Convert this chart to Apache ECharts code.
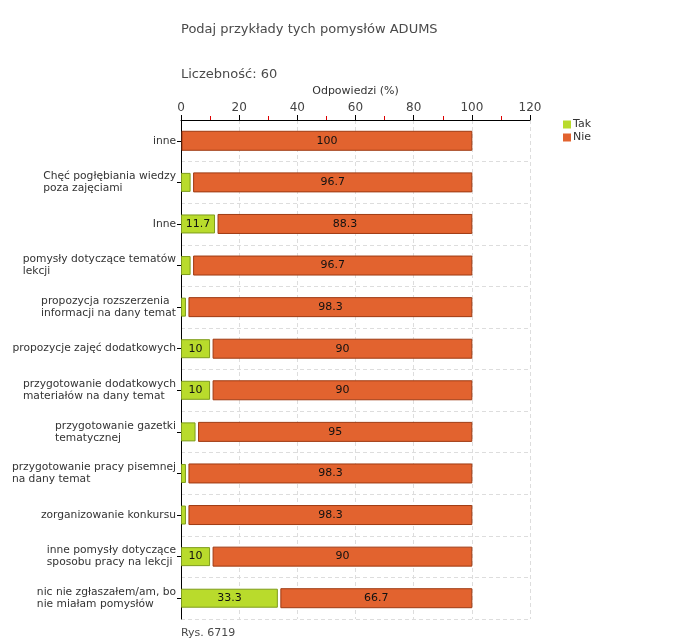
<!DOCTYPE html>
<html>
<head>
<meta charset="utf-8">
<script src="https://cdn.jsdelivr.net/npm/echarts@6/dist/echarts.min.js"></script>
<style>html,body{margin:0;padding:0;background:#fff}#c{width:680px;height:640px}</style>
</head>
<body>
<div id="c"></div>
<script>
var categories = [
  'inne',
  'Chęć pogłębiania wiedzy\npoza zajęciami',
  'Inne',
  'pomysły dotyczące tematów\nlekcji',
  'propozycja rozszerzenia\ninformacji na dany temat',
  'propozycje zajęć dodatkowych',
  'przygotowanie dodatkowych\nmateriałów na dany temat',
  'przygotowanie gazetki\ntematycznej',
  'przygotowanie pracy pisemnej\nna dany temat',
  'zorganizowanie konkursu',
  'inne pomysły dotyczące\nsposobu pracy na lekcji',
  'nic nie zgłaszałem/am, bo\nnie miałam pomysłów'
];
var tak = [0, 3.3, 11.7, 3.3, 1.7, 10, 10, 5, 1.7, 1.7, 10, 33.3];
var nie = [100, 96.7, 88.3, 96.7, 98.3, 90, 90, 95, 98.3, 98.3, 90, 66.7];
var xTicks = [0, 20, 40, 60, 80, 100, 120];

var FONT = 'DejaVu Sans, Verdana, sans-serif';
var GREEN = '#B9DB2C', GREEN_B = '#7E9C1C';
var ORANGE = '#E2632F', ORANGE_B = '#9E3A12';

var chart = echarts.init(document.getElementById('c'), null, {renderer: 'canvas'});
var nieData = categories.map(function (c, i) { return [i, tak[i], nie[i]]; });
var takData = tak.map(function (v) { return v > 0 ? v : '-'; });

chart.setOption({
  animation: false,
  backgroundColor: '#fff',
  textStyle: {fontFamily: FONT},
  title: [
    {text: 'Podaj przykłady tych pomysłów ADUMS', left: 176, top: 18,
     textStyle: {fontFamily: FONT, fontSize: 13, fontWeight: 'normal', color: '#4a4a4a'}},
    {text: 'Liczebność: 60', left: 176, top: 63,
     textStyle: {fontFamily: FONT, fontSize: 13, fontWeight: 'normal', color: '#4a4a4a'}},
    {text: 'Rys. 6719', left: 176, top: 623,
     textStyle: {fontFamily: FONT, fontSize: 11, fontWeight: 'normal', color: '#4a4a4a'}}
  ],
  legend: {
    left: 558, top: 114, orient: 'vertical', itemWidth: 8, itemHeight: 8, itemGap: 2,
    icon: 'rect',
    textStyle: {fontFamily: FONT, fontSize: 11, color: '#333', padding: [0, 0, 0, -3]},
    data: [{name: 'Tak', itemStyle: {color: GREEN, borderWidth: 0}}, {name: 'Nie', itemStyle: {color: ORANGE, borderWidth: 0}}]
  },
  grid: {left: 181, top: 120, width: 349, height: 499, containLabel: false},
  xAxis: {
    type: 'value', position: 'top', min: 0, max: 120, interval: 20,
    name: 'Odpowiedzi (%)', nameLocation: 'middle', nameGap: 21,
    nameTextStyle: {fontFamily: FONT, fontSize: 11, color: '#333'},
    axisLine: {show: true, lineStyle: {color: '#000', width: 1}},
    axisTick: {show: true, inside: false, length: 5, lineStyle: {color: '#000'}},
    minorTick: {show: true, splitNumber: 2, length: 4, lineStyle: {color: '#d00'}},
    axisLabel: {fontFamily: FONT, fontSize: 12, color: '#444', margin: 6,
      formatter: function (v) { return xTicks.indexOf(v) >= 0 ? String(v) : ''; }},
    splitLine: {show: true, lineStyle: {color: '#ddd', type: [4, 3]}}
  },
  yAxis: {
    type: 'category', data: categories, inverse: true,
    axisLine: {show: true, lineStyle: {color: '#000', width: 1}},
    axisTick: {show: true, alignWithLabel: true, length: 4, lineStyle: {color: '#000'}},
    axisLabel: {
      fontFamily: FONT, fontSize: 10.7, color: '#333', margin: 5, lineHeight: 12,
      formatter: function (v) {
        return v.split('\n').map(function (s) { return '{l|' + s + '}'; }).join('\n');
      },
      rich: {l: {align: 'left', fontFamily: FONT, fontSize: 10.7, color: '#333', lineHeight: 12}}
    },
    splitLine: {show: true, lineStyle: {color: '#ddd', type: [4, 3]}}
  },
  series: [
    {
      name: 'Tak', type: 'bar', data: takData, barWidth: 19,
      itemStyle: {color: GREEN, borderColor: GREEN_B, borderWidth: 1},
      label: {show: true, position: 'inside', color: '#111', fontFamily: FONT, fontSize: 11,
        formatter: function (p) { return p.value >= 10 ? String(p.value) : ''; }},
      z: 3
    },
    {
      name: 'Nie', type: 'custom', data: nieData,
      itemStyle: {color: ORANGE},
      encode: {x: [1, 2], y: 0},
      renderItem: function (params, api) {
        var idx = api.value(0), t = api.value(1), n = api.value(2);
        var s = api.coord([t, idx]);
        var e = api.coord([t + n, idx]);
        var x0 = s[0] + (t > 0 ? 3 : 1);
        var h = 19;
        return {
          type: 'rect',
          shape: {x: x0, y: s[1] - h / 2, width: e[0] - x0, height: h},
          style: {fill: ORANGE, stroke: ORANGE_B, lineWidth: 1},
          textContent: {style: {text: String(n), fill: '#111', font: '11px ' + FONT}},
          textConfig: {position: 'inside'}
        };
      },
      z: 3
    }
  ]
});
</script>
</body>
</html>
